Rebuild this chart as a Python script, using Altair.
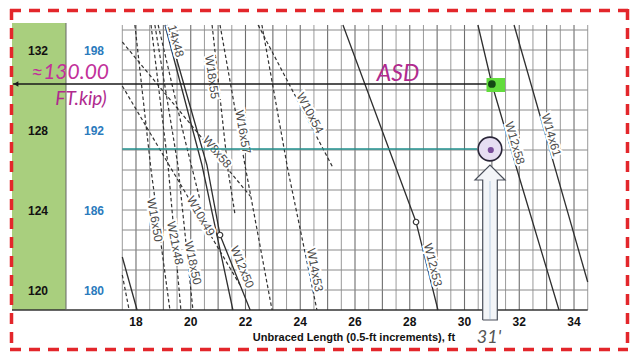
import altair as alt
import pandas as pd
import numpy as np

# ---------------- canvas / scale mapping ----------------
W, H = 624, 344                      # whole drawing area (page minus 8px margin)
XD = [13.325, 36.118]                # ft shown across the whole canvas
YD = [116.9, 134.1]                  # kip-ft shown down the whole canvas


def fx(px):
    return XD[0] + (px - 8) * (XD[1] - XD[0]) / W


def fy(py):
    return YD[1] - (py - 8) * (YD[1] - YD[0]) / H


X_MIN, X_MAX = 17.5, 34.5            # plot grid extent (ft)
Y_MIN, Y_MAX = 119.0, 133.25         # plot grid extent (kip-ft, ASD)

# ---------------- data ----------------
ASD_TICKS = [132, 128, 124, 120]
LRFD_TICKS = [198, 192, 186, 180]
X_TICKS = [18, 20, 22, 24, 26, 28, 30, 32, 34]

# solid curves (lightest sections)
W14x48_FT = [19.06, 20.41, 21.54]
W14x48_M = [133.25, 126.25, 119.0]
W12x50_FT = [19.13, 20.59, 21.07, 22.17]
W12x50_M = [133.25, 126.25, 122.75, 119.0]
W12x53_FT = [25.56, 28.23, 29.03]
W12x53_M = [133.25, 123.4, 119.0]
W12x58_FT = [30.49, 31.0, 32.03, 33.45]
W12x58_M = [133.25, 130.3, 125.5, 119.0]
W14x61_FT = [31.81, 34.5]
W14x61_M = [133.25, 120.4]
EDGE_SOLID_FT = [17.5, 18.04]
EDGE_SOLID_M = [121.65, 119.0]

# dashed curves
W8x58_FT = [17.5, 22.17]
W8x58_M = [132.4, 124.7]
W10x49_FT = [17.5, 21.80]
W10x49_M = [130.2, 120.25]
W10x54_FT = [22.46, 25.20]
W10x54_M = [133.25, 126.1]
W14x53_FT = [22.60, 23.55, 24.61]
W14x53_M = [133.25, 126.0, 119.0]
W16x57_FT = [21.07, 21.98, 22.97]
W16x57_M = [133.25, 126.25, 119.0]
W18x55_FT = [20.78, 21.36, 21.62]
W18x55_M = [133.25, 126.0, 123.75]
W16x50_FT = [17.96, 18.55, 19.24]
W16x50_M = [133.25, 126.0, 119.0]
W21x48_FT = [18.55, 19.17, 19.64]
W21x48_M = [133.25, 126.25, 119.0]
W18x50_FT = [18.69, 19.53, 20.08]
W18x50_M = [133.25, 126.25, 119.0]
EXTRA_FT = [18.81, 19.79, 20.34]
EXTRA_M = [133.25, 127.5, 124.5]
EDGE_DASH_FT = [17.5, 17.75]
EDGE_DASH_M = [120.75, 119.0]

# open circles on curves
OPEN_FT = [21.07, 28.23]
OPEN_M = [122.75, 123.4]

# curve labels
LABEL_TEXT = ["14x48", "W18x55", "W16x57", "W10x54", "W8x58", "W10x49", "W16x50",
              "W21x48", "W18x50", "W12x50", "W14x53", "W12x53", "W12x58", "W14x61"]
LABEL_FT = [19.46, 20.78, 21.91, 24.36, 20.96, 20.37, 18.69,
            19.43, 20.08, 21.88, 24.54, 28.85, 31.84, 33.17]
LABEL_M = [132.45, 130.65, 127.9, 128.85, 126.9, 123.7, 123.5,
           122.35, 121.35, 121.15, 121.0, 121.25, 127.35, 127.75]
LABEL_ANGLE = [75, 82, 80, 62, 50, 60, 80, 79, 78, 68, 79, 76, 74, 74]

# annotations
ASD_LINE_M = 130.3
POINT_FT = 31.0
TEAL_M = 127.05
CIRCLE_FT = 30.93

# ---------------- build tables ----------------
solid = [("W14x48", W14x48_FT, W14x48_M), ("W12x50", W12x50_FT, W12x50_M),
         ("W12x53", W12x53_FT, W12x53_M), ("W12x58", W12x58_FT, W12x58_M),
         ("W14x61", W14x61_FT, W14x61_M), ("edge", EDGE_SOLID_FT, EDGE_SOLID_M)]
dashed = [("W8x58", W8x58_FT, W8x58_M), ("W10x49", W10x49_FT, W10x49_M),
          ("W10x54", W10x54_FT, W10x54_M), ("W14x53", W14x53_FT, W14x53_M),
          ("W16x57", W16x57_FT, W16x57_M), ("W18x55", W18x55_FT, W18x55_M),
          ("W16x50", W16x50_FT, W16x50_M), ("W21x48", W21x48_FT, W21x48_M),
          ("W18x50", W18x50_FT, W18x50_M), ("extra", EXTRA_FT, EXTRA_M),
          ("edge2", EDGE_DASH_FT, EDGE_DASH_M)]


def curve_df(curves):
    rows = []
    for name, fts, ms in curves:
        for i, (f, m) in enumerate(zip(fts, ms)):
            rows.append({"shape": name, "i": i, "ft": f, "M": m})
    return pd.DataFrame(rows)


solid_df = curve_df(solid)
dashed_df = curve_df(dashed)

xs = alt.Scale(domain=XD, nice=False, zero=False)
ys = alt.Scale(domain=YD, nice=False, zero=False)


def X(f):
    return alt.X(f, type="quantitative", scale=xs, axis=None)


def Y(f):
    return alt.Y(f, type="quantitative", scale=ys, axis=None)


def seg_df(x0, x1, y0, y1):
    return pd.DataFrame({"x0": [x0], "x1": [x1], "y0": [y0], "y1": [y1]})


layers = []

# left columns
green = alt.Chart(seg_df(fx(12), fx(66), fy(23), Y_MIN)).mark_rect(color="#a9cf7e").encode(
    x=X("x0"), x2="x1", y=Y("y0"), y2="y1")
layers.append(green)

# grid
half = np.arange(X_MIN, X_MAX + 0.01, 0.5)
vgrid = pd.DataFrame({"ft": half, "y0": Y_MIN, "y1": Y_MAX,
                      "major": [float(v).is_integer() for v in half]})
layers.append(alt.Chart(vgrid[~vgrid.major]).mark_rule(color="#9a9a9a", strokeWidth=1).encode(
    x=X("ft"), y=Y("y0"), y2="y1"))
layers.append(alt.Chart(vgrid[vgrid.major]).mark_rule(color="#6e6e6e", strokeWidth=1.1).encode(
    x=X("ft"), y=Y("y0"), y2="y1"))
hgrid = pd.DataFrame({"M": list(range(120, 134)), "x0": X_MIN, "x1": X_MAX})
layers.append(alt.Chart(hgrid).mark_rule(color="#8a8a8a", strokeWidth=1).encode(
    y=Y("M"), x=X("x0"), x2="x1"))

# frame lines
layers.append(alt.Chart(seg_df(fx(12), X_MAX, Y_MIN, Y_MIN)).mark_rule(color="#333333", strokeWidth=1.5).encode(
    x=X("x0"), x2="x1", y=Y("y0")))
layers.append(alt.Chart(seg_df(fx(66), fx(66), fy(23), Y_MIN)).mark_rule(color="#666666", strokeWidth=1).encode(
    x=X("x0"), y=Y("y0"), y2="y1"))

# curves
layers.append(alt.Chart(dashed_df).mark_line(color="#333333", strokeWidth=1.2, strokeDash=[3.5, 2.5]).encode(
    x=X("ft"), y=Y("M"), detail="shape:N", order="i:Q"))
layers.append(alt.Chart(solid_df).mark_line(color="#2f2f2f", strokeWidth=1.3).encode(
    x=X("ft"), y=Y("M"), detail="shape:N", order="i:Q"))
layers.append(alt.Chart(pd.DataFrame({"ft": OPEN_FT, "M": OPEN_M})).mark_point(
    shape="circle", size=30, filled=True, fill="white", stroke="#333333", strokeWidth=1.2, opacity=1).encode(
    x=X("ft"), y=Y("M")))

# curve labels (white halo then grey text)
lab = pd.DataFrame({"t": LABEL_TEXT, "ft": LABEL_FT, "M": LABEL_M, "a": LABEL_ANGLE})
layers.append(alt.Chart(lab).mark_text(font="Liberation Sans", fontSize=12, color="white",
                                        stroke="white", strokeWidth=4).encode(
    x=X("ft"), y=Y("M"), text="t:N", angle=alt.Angle("a:Q", scale=None)))
layers.append(alt.Chart(lab).mark_text(font="Liberation Sans", fontSize=12, color="#4a4a4a").encode(
    x=X("ft"), y=Y("M"), text="t:N", angle=alt.Angle("a:Q", scale=None)))

# axis-like labels
layers.append(alt.Chart(pd.DataFrame({"v": ASD_TICKS, "ft": fx(38)})).mark_text(
    font="Liberation Sans", fontSize=12, fontWeight="bold", color="#111111", dy=1).encode(
    x=X("ft"), y=Y("v"), text="v:Q"))
layers.append(alt.Chart(pd.DataFrame({"v": LRFD_TICKS, "m": ASD_TICKS, "ft": fx(94)})).mark_text(
    font="Liberation Sans", fontSize=12, fontWeight="bold", color="#2b7bbd", dy=1).encode(
    x=X("ft"), y=Y("m"), text="v:Q"))
layers.append(alt.Chart(pd.DataFrame({"v": X_TICKS, "m": fy(322)})).mark_text(
    font="Liberation Sans", fontSize=12, fontWeight="bold", color="#111111").encode(
    x=X("v"), y=Y("m"), text="v:Q"))
layers.append(alt.Chart(pd.DataFrame({"t": ["Unbraced Length (0.5-ft increments), ft"],
                                      "ft": [fx(354)], "m": [fy(338)]})).mark_text(
    font="Liberation Sans", fontSize=11, fontWeight="bold", color="#111111").encode(
    x=X("ft"), y=Y("m"), text="t:N"))

# annotations: ASD line to the green point
layers.append(alt.Chart(seg_df(fx(13), POINT_FT, ASD_LINE_M, ASD_LINE_M)).mark_rule(
    color="#1a1a1a", strokeWidth=1.3).encode(x=X("x0"), x2="x1", y=Y("y0")))
layers.append(alt.Chart(pd.DataFrame({"ft": [fx(16)], "M": [ASD_LINE_M]})).mark_point(
    shape="triangle-left", size=30, filled=True, color="#1a1a1a", opacity=1).encode(x=X("ft"), y=Y("M")))
layers.append(alt.Chart(seg_df(fx(486.5), fx(505), fy(78), fy(92))).mark_rect(color="#62dc3c").encode(
    x=X("x0"), x2="x1", y=Y("y0"), y2="y1"))
layers.append(alt.Chart(pd.DataFrame({"ft": [POINT_FT], "M": [ASD_LINE_M]})).mark_point(
    shape="circle", size=60, filled=True, color="#144a14", opacity=1).encode(x=X("ft"), y=Y("M")))

# teal line to the purple circle
layers.append(alt.Chart(seg_df(X_MIN, fx(477), TEAL_M, TEAL_M)).mark_rule(
    color="#1f8f8c", strokeWidth=1.3).encode(x=X("x0"), x2="x1", y=Y("y0")))
layers.append(alt.Chart(pd.DataFrame({"ft": [CIRCLE_FT], "M": [TEAL_M]})).mark_point(
    shape="circle", size=560, filled=True, fill="#e6def2", stroke="#2a2638", strokeWidth=1.6, opacity=1).encode(
    x=X("ft"), y=Y("M")))
layers.append(alt.Chart(pd.DataFrame({"ft": [CIRCLE_FT + 0.03], "M": [TEAL_M - 0.05]})).mark_point(
    shape="circle", size=38, filled=True, color="#7a4e9c", opacity=1).encode(x=X("ft"), y=Y("M")))

# hollow upward arrow
layers.append(alt.Chart(seg_df(fx(482.7), fx(497.3), fy(180), fy(320))).mark_rect(color="#f3f5f8").encode(
    x=X("x0"), x2="x1", y=Y("y0"), y2="y1"))
layers.append(alt.Chart(pd.DataFrame({"ft": [fx(490)], "M": [fy(172.5)]})).mark_point(
    shape="M -1 0.5 L 0 -0.5 L 1 0.5 Z", size=900, filled=True, color="#f3f5f8", opacity=1).encode(
    x=X("ft"), y=Y("M")))
layers.append(alt.Chart(seg_df(fx(490), fx(490), fy(181), fy(319))).mark_rule(
    color="#b9cde2", strokeWidth=1).encode(x=X("x0"), y=Y("y0"), y2="y1"))
arrow_px = [482.7, 482.7, 475, 490, 505, 497.3, 497.3, 482.7]
arrow_py = [320, 180, 180, 165, 180, 180, 320, 320]
arrow_df = pd.DataFrame({"ft": [fx(p) for p in arrow_px], "M": [fy(p) for p in arrow_py],
                         "i": list(range(len(arrow_px)))})
layers.append(alt.Chart(arrow_df).mark_line(color="#4a4f5a", strokeWidth=1.2).encode(
    x=X("ft"), y=Y("M"), order="i:Q"))

# handwritten notes
notes = pd.DataFrame({
    "t": ["\u2248130.00", "FT.kip)", "ASD", "31'"],
    "ft": [fx(70), fx(81), fx(398), fx(489)],
    "m": [fy(73), fy(99), fy(74), fy(338)],
    "size": [21, 19, 23, 18],
    "c": ["#c2309a", "#b02a8e", "#b02a8e", "#555555"],
})
for _, r in notes.iterrows():
    layers.append(alt.Chart(pd.DataFrame([r])).mark_text(
        font="Lato", fontSize=int(r["size"]), fontStyle="italic", fontWeight="normal",
        color=r["c"]).encode(x=X("ft"), y=Y("m"), text="t:N"))

# red dashed frame
red = dict(color="#e3262b", strokeWidth=3.5, strokeDash=[11, 8])
layers.append(alt.Chart(seg_df(fx(10), fx(628), fy(10.5), fy(10.5))).mark_rule(**red).encode(
    x=X("x0"), x2="x1", y=Y("y0")))
layers.append(alt.Chart(seg_df(fx(10), fx(628), fy(349.5), fy(349.5))).mark_rule(**red).encode(
    x=X("x0"), x2="x1", y=Y("y0")))
layers.append(alt.Chart(seg_df(fx(11.5), fx(11.5), fy(9), fy(351))).mark_rule(**red).encode(
    x=X("x0"), y=Y("y0"), y2="y1"))
layers.append(alt.Chart(seg_df(fx(627.5), fx(627.5), fy(9), fy(351))).mark_rule(**red).encode(
    x=X("x0"), y=Y("y0"), y2="y1"))

chart = alt.layer(*layers).properties(
    width=W, height=H, padding=0, autosize=alt.AutoSizeParams(type="none"), background="white"
).configure_view(strokeWidth=0)

chart.save("out.html", embed_options={"renderer": "svg", "actions": False})
